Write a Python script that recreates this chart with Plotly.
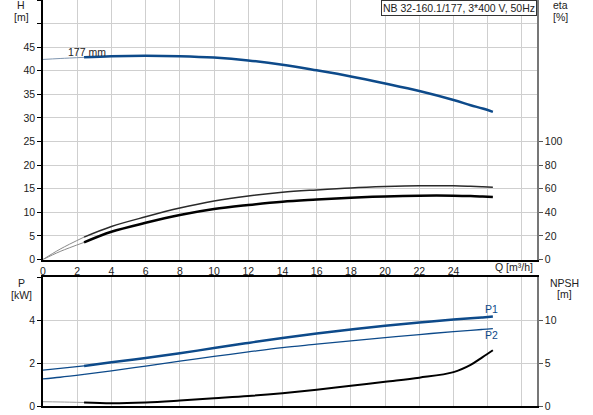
import plotly.graph_objects as go

# flow rate Q [m3/h]
q = [0, 1, 2.4, 4, 6, 8, 10, 12, 14, 16, 18, 20, 22, 24, 25, 25.7, 26.3]
# head H [m], 177 mm impeller
head = [42.4, 42.6, 42.85, 43.1, 43.2, 43.1, 42.8, 42.2, 41.3, 40.1, 38.8, 37.3, 35.7, 33.8, 32.7, 32.0, 31.3]
# efficiencies [%]
eta_pump = [0, 8.8, 19.0, 28.0, 36.2, 43.6, 49.6, 53.9, 57.0, 59.0, 60.7, 61.8, 62.5, 62.5, 62.1, 61.7, 61.3]
eta_total = [0, 6.8, 14.5, 23.5, 31.1, 37.7, 42.8, 46.2, 49.0, 50.8, 52.4, 53.5, 54.1, 54.1, 53.8, 53.4, 53.0]
# power [kW]
p1 = [1.67, 1.75, 1.87, 2.04, 2.24, 2.46, 2.70, 2.94, 3.17, 3.38, 3.57, 3.74, 3.89, 4.03, 4.09, 4.13, 4.17]
p2 = [1.26, 1.34, 1.47, 1.64, 1.86, 2.09, 2.31, 2.52, 2.72, 2.88, 3.04, 3.19, 3.33, 3.47, 3.53, 3.57, 3.61]
# NPSH [m]
npsh = [0.5, 0.47, 0.41, 0.33, 0.42, 0.64, 0.9, 1.16, 1.5, 1.9, 2.36, 2.83, 3.3, 3.95, 4.8, 5.7, 6.5]

q_ticks = list(range(0, 30, 2))
q_labels = [str(v) if v <= 24 else "" for v in q_ticks]
h_ticks = list(range(0, 60, 5))
h_labels = [str(v) if v <= 45 else "" for v in h_ticks]
eta_ticks = [0, 20, 40, 60, 80, 100]
p_ticks = [0, 2, 4, 6]
p_labels = ["0", "2", "4", ""]
npsh_ticks = [0, 5, 10]

SPLIT = 2  # index of q where the curves turn from thin to thick

BLUE = "#0d4a8a"
FONT = dict(family="Liberation Sans, Arial", size=10.5, color="#222")
GRID = "#cfcfcf"

W, H = 593, 415
L, R, T, B = 43, 56, 0, 9
PW, PH = W - L - R, H - T - B


def px(x, y):
    return (x - L) / PW, (H - B - y) / PH


fig = go.Figure()


def curve(y, xa, ya, thin, thick, name):
    fig.add_trace(go.Scatter(x=q[:SPLIT + 1], y=y[:SPLIT + 1], xaxis=xa, yaxis=ya, mode="lines",
                             line=dict(color=thin[0], width=thin[1], shape="spline"), name=name))
    fig.add_trace(go.Scatter(x=q[SPLIT:], y=y[SPLIT:], xaxis=xa, yaxis=ya, mode="lines",
                             line=dict(color=thick[0], width=thick[1], shape="spline"), name=name))


curve(head, "x", "y", ("#8096b0", 1), (BLUE, 2.5), "H")
curve(eta_pump, "x", "y2", ("#8a8a8a", 1), ("#2a2a2a", 1.5), "eta")
curve(eta_total, "x", "y2", ("#8a8a8a", 1), ("#000000", 2.5), "eta")
curve(p1, "x2", "y3", (BLUE, 1.3), (BLUE, 2.5), "P1")
curve(p2, "x2", "y3", (BLUE, 1.3), (BLUE, 1.3), "P2")
curve(npsh, "x2", "y4", ("#9a9a9a", 1), ("#000000", 2), "NPSH")

top_dom = [(H - B - 259.5) / PH, 1]
bot_dom = [0, 128.7 / PH]
qrange = [0, 28.88]

common_x = dict(range=qrange, tickvals=q_ticks, showgrid=True, gridcolor=GRID, gridwidth=1,
                showline=True, linecolor="#000", linewidth=1.5, zeroline=False, ticks="",
                tickfont=FONT, fixedrange=True, automargin=False)

fig.update_layout(
    width=W, height=H,
    margin=dict(l=L, r=R, t=T, b=B),
    paper_bgcolor="white", plot_bgcolor="white",
    showlegend=False,
    font=FONT,
    xaxis=dict(common_x, anchor="y", ticktext=q_labels, ticklabelstandoff=1),
    xaxis2=dict(common_x, anchor="y3", showticklabels=False, mirror=True),
    yaxis=dict(domain=top_dom, range=[0, 55], tickvals=h_ticks, ticktext=h_labels,
               showgrid=True, gridcolor=GRID, showline=True, linecolor="#000", linewidth=1.5,
               ticks="outside", ticklen=4, tickcolor="#000", zeroline=False, tickfont=FONT,
               automargin=False),
    yaxis2=dict(overlaying="y", side="right", anchor="x", range=[0, 220], tickvals=eta_ticks,
                showgrid=False, showline=True, linecolor="#777", linewidth=1.5,
                ticks="outside", ticklen=4, tickcolor="#555", zeroline=False, tickfont=FONT,
                automargin=False),
    yaxis3=dict(domain=bot_dom, range=[0, 6], tickvals=p_ticks, ticktext=p_labels,
                showgrid=True, gridcolor=GRID, showline=True, linecolor="#000", linewidth=1.5,
                ticks="outside", ticklen=4, tickcolor="#000", zeroline=False, tickfont=FONT,
                automargin=False),
    yaxis4=dict(overlaying="y3", side="right", anchor="x2", range=[0, 15], tickvals=npsh_ticks,
                showgrid=False, showline=True, linecolor="#777", linewidth=1.5,
                ticks="outside", ticklen=4, tickcolor="#555", zeroline=False, tickfont=FONT,
                automargin=False),
)


def label(text, x, y, **kw):
    ax, ay = px(x, y)
    fig.add_annotation(text=text, x=ax, y=ay, xref="paper", yref="paper", showarrow=False,
                       font=FONT, xanchor="center", yanchor="middle", **kw)


label("H", 21, 5)
label("[m]", 21, 17)
label("eta", 560, 5)
label("[%]", 560, 17)
label("P", 21, 283)
label("[kW]", 21, 295)
label("NPSH", 564, 283)
label("[m]", 564, 294)
label("Q [m³/h]", 514, 267)

fig.add_annotation(text="NB 32-160.1/177, 3*400 V, 50Hz", x=1, y=1, xref="paper", yref="paper",
                   xanchor="right", yanchor="top", showarrow=False, font=FONT,
                   bgcolor="white", bordercolor="#333", borderwidth=1, borderpad=1)

fig.add_annotation(text="177 mm", x=2.55, y=43.9, xref="x", yref="y", showarrow=False,
                   font=FONT, xanchor="center", yanchor="middle")
fig.add_annotation(text="P1", x=26.2, y=4.51, xref="x2", yref="y3", showarrow=False,
                   font=dict(FONT, color=BLUE), xanchor="center", yanchor="middle")
fig.add_annotation(text="P2", x=26.2, y=3.30, xref="x2", yref="y3", showarrow=False,
                   font=dict(FONT, color=BLUE), xanchor="center", yanchor="middle")

# the page's default body margin would shift the chart off its 593x415 frame
fig.write_html("out.html", config={"displayModeBar": False},
               post_script="document.body.style.margin='0';")
